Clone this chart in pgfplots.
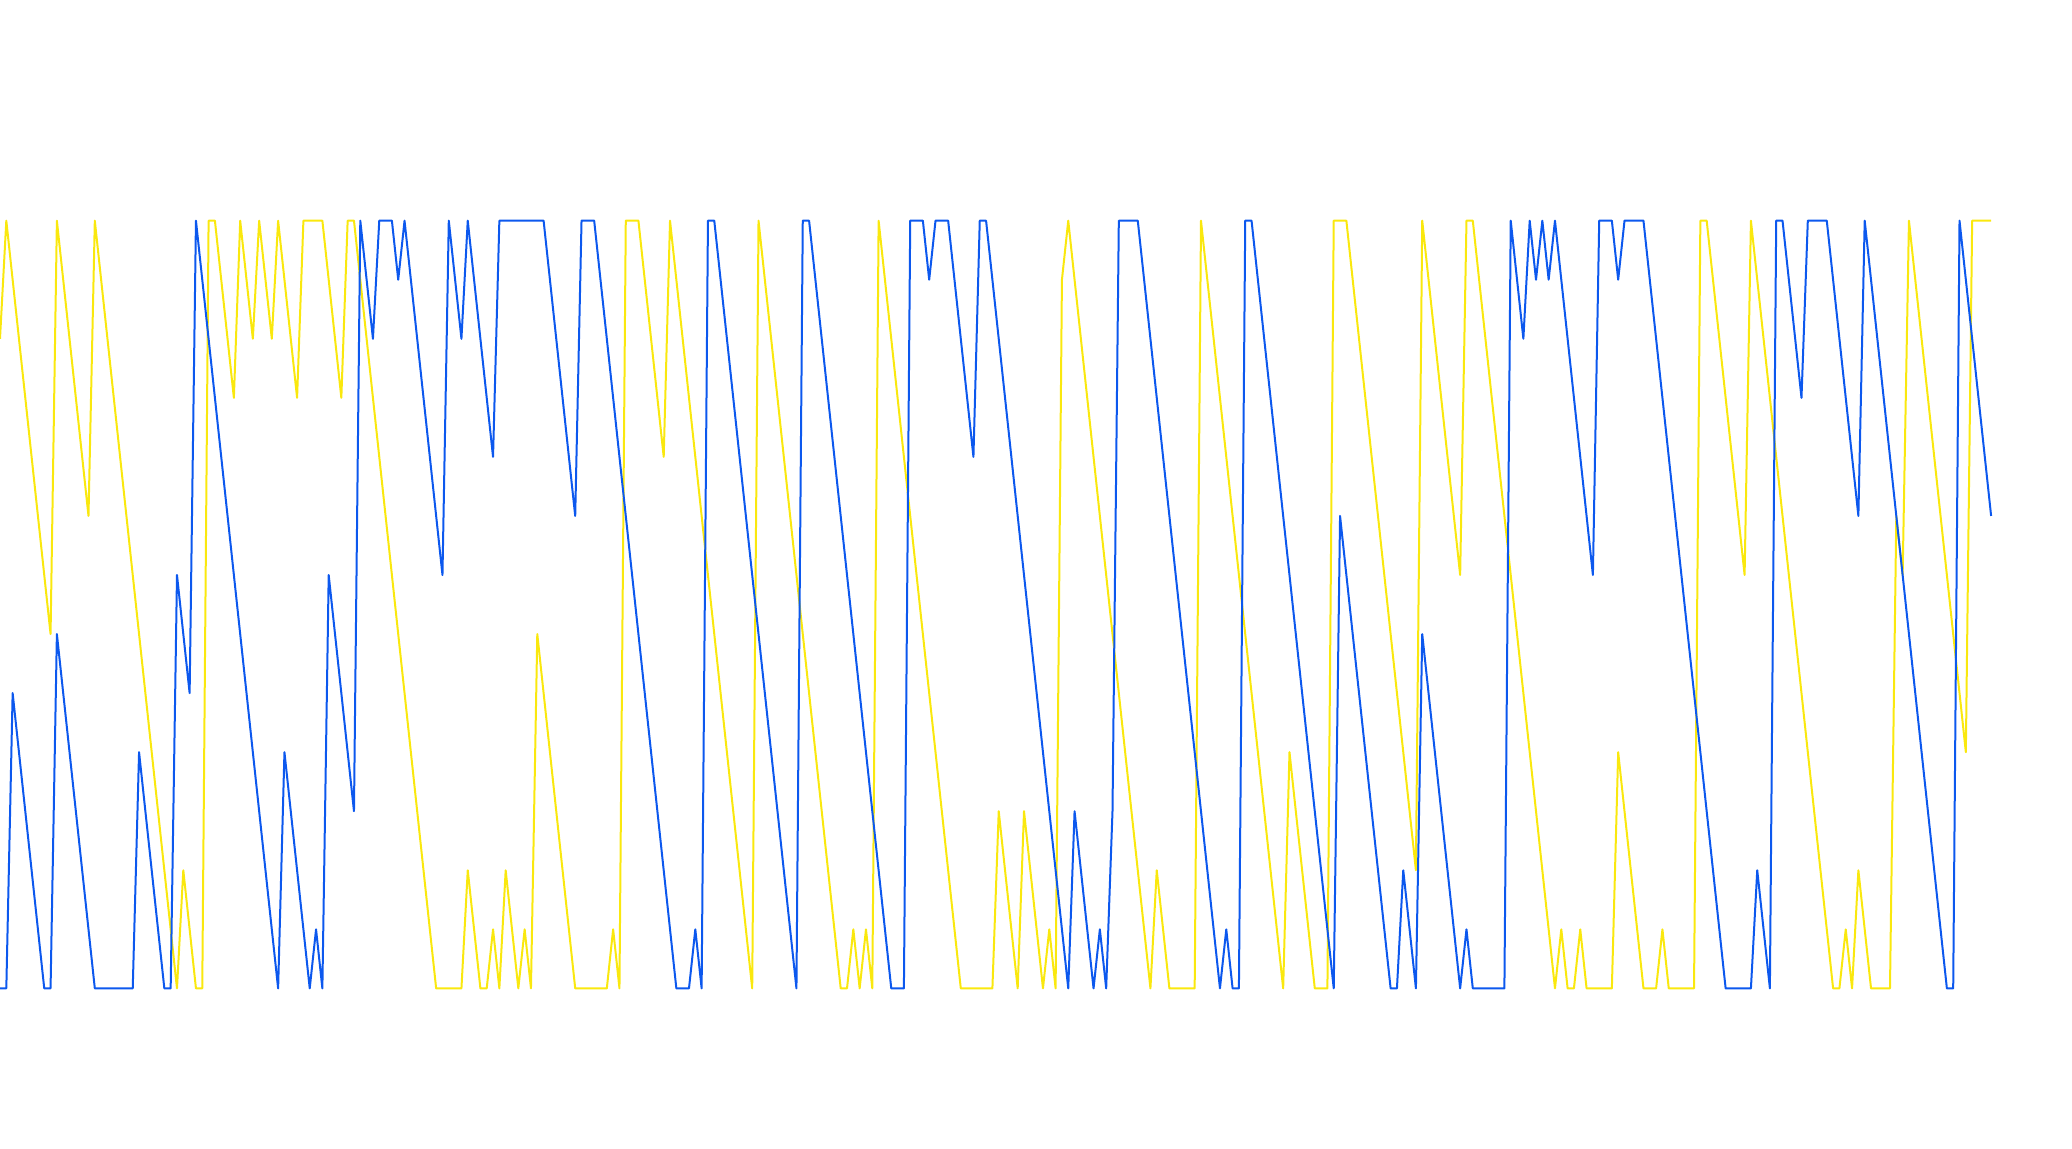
\documentclass[border=0pt]{standalone}
\usepackage{pgfplots}
\pgfplotsset{compat=1.18}
\usepackage{pgfplotstable}

\definecolor{lineblue}{RGB}{12,88,238}
\definecolor{lineyellow}{RGB}{250,232,14}

% blue series, one value per step
\pgfplotstableread{
x y
0 0
1 0
2 5
3 4
4 3
5 2
6 1
7 0
8 0
9 6
10 5
11 4
12 3
13 2
14 1
15 0
16 0
17 0
18 0
19 0
20 0
21 0
22 4
23 3
24 2
25 1
26 0
27 0
28 7
29 6
30 5
31 13
32 12
33 11
34 10
35 9
36 8
37 7
38 6
39 5
40 4
41 3
42 2
43 1
44 0
45 4
46 3
47 2
48 1
49 0
50 1
51 0
52 7
53 6
54 5
55 4
56 3
57 13
58 12
59 11
60 13
61 13
62 13
63 12
64 13
65 12
66 11
67 10
68 9
69 8
70 7
71 13
72 12
73 11
74 13
75 12
76 11
77 10
78 9
79 13
80 13
81 13
82 13
83 13
84 13
85 13
86 13
87 12
88 11
89 10
90 9
91 8
92 13
93 13
94 13
95 12
96 11
97 10
98 9
99 8
100 7
101 6
102 5
103 4
104 3
105 2
106 1
107 0
108 0
109 0
110 1
111 0
112 13
113 13
114 12
115 11
116 10
117 9
118 8
119 7
120 6
121 5
122 4
123 3
124 2
125 1
126 0
127 13
128 13
129 12
130 11
131 10
132 9
133 8
134 7
135 6
136 5
137 4
138 3
139 2
140 1
141 0
142 0
143 0
144 13
145 13
146 13
147 12
148 13
149 13
150 13
151 12
152 11
153 10
154 9
155 13
156 13
157 12
158 11
159 10
160 9
161 8
162 7
163 6
164 5
165 4
166 3
167 2
168 1
169 0
170 3
171 2
172 1
173 0
174 1
175 0
176 3
177 13
178 13
179 13
180 13
181 12
182 11
183 10
184 9
185 8
186 7
187 6
188 5
189 4
190 3
191 2
192 1
193 0
194 1
195 0
196 0
197 13
198 13
199 12
200 11
201 10
202 9
203 8
204 7
205 6
206 5
207 4
208 3
209 2
210 1
211 0
212 8
213 7
214 6
215 5
216 4
217 3
218 2
219 1
220 0
221 0
222 2
223 1
224 0
225 6
226 5
227 4
228 3
229 2
230 1
231 0
232 1
233 0
234 0
235 0
236 0
237 0
238 0
239 13
240 12
241 11
242 13
243 12
244 13
245 12
246 13
247 12
248 11
249 10
250 9
251 8
252 7
253 13
254 13
255 13
256 12
257 13
258 13
259 13
260 13
261 12
262 11
263 10
264 9
265 8
266 7
267 6
268 5
269 4
270 3
271 2
272 1
273 0
274 0
275 0
276 0
277 0
278 2
279 1
280 0
281 13
282 13
283 12
284 11
285 10
286 13
287 13
288 13
289 13
290 12
291 11
292 10
293 9
294 8
295 13
296 12
297 11
298 10
299 9
300 8
301 7
302 6
303 5
304 4
305 3
306 2
307 1
308 0
309 0
310 13
311 12
312 11
313 10
314 9
315 8
}\bluedata

% yellow series
\pgfplotstableread{
x y
0 11
1 13
2 12
3 11
4 10
5 9
6 8
7 7
8 6
9 13
10 12
11 11
12 10
13 9
14 8
15 13
16 12
17 11
18 10
19 9
20 8
21 7
22 6
23 5
24 4
25 3
26 2
27 1
28 0
29 2
30 1
31 0
32 0
33 13
34 13
35 12
36 11
37 10
38 13
39 12
40 11
41 13
42 12
43 11
44 13
45 12
46 11
47 10
48 13
49 13
50 13
51 13
52 12
53 11
54 10
55 13
56 13
57 12
58 11
59 10
60 9
61 8
62 7
63 6
64 5
65 4
66 3
67 2
68 1
69 0
70 0
71 0
72 0
73 0
74 2
75 1
76 0
77 0
78 1
79 0
80 2
81 1
82 0
83 1
84 0
85 6
86 5
87 4
88 3
89 2
90 1
91 0
92 0
93 0
94 0
95 0
96 0
97 1
98 0
99 13
100 13
101 13
102 12
103 11
104 10
105 9
106 13
107 12
108 11
109 10
110 9
111 8
112 7
113 6
114 5
115 4
116 3
117 2
118 1
119 0
120 13
121 12
122 11
123 10
124 9
125 8
126 7
127 6
128 5
129 4
130 3
131 2
132 1
133 0
134 0
135 1
136 0
137 1
138 0
139 13
140 12
141 11
142 10
143 9
144 8
145 7
146 6
147 5
148 4
149 3
150 2
151 1
152 0
153 0
154 0
155 0
156 0
157 0
158 3
159 2
160 1
161 0
162 3
163 2
164 1
165 0
166 1
167 0
168 12
169 13
170 12
171 11
172 10
173 9
174 8
175 7
176 6
177 5
178 4
179 3
180 2
181 1
182 0
183 2
184 1
185 0
186 0
187 0
188 0
189 0
190 13
191 12
192 11
193 10
194 9
195 8
196 7
197 6
198 5
199 4
200 3
201 2
202 1
203 0
204 4
205 3
206 2
207 1
208 0
209 0
210 0
211 13
212 13
213 13
214 12
215 11
216 10
217 9
218 8
219 7
220 6
221 5
222 4
223 3
224 2
225 13
226 12
227 11
228 10
229 9
230 8
231 7
232 13
233 13
234 12
235 11
236 10
237 9
238 8
239 7
240 6
241 5
242 4
243 3
244 2
245 1
246 0
247 1
248 0
249 0
250 1
251 0
252 0
253 0
254 0
255 0
256 4
257 3
258 2
259 1
260 0
261 0
262 0
263 1
264 0
265 0
266 0
267 0
268 0
269 13
270 13
271 12
272 11
273 10
274 9
275 8
276 7
277 13
278 12
279 11
280 10
281 9
282 8
283 7
284 6
285 5
286 4
287 3
288 2
289 1
290 0
291 0
292 1
293 0
294 2
295 1
296 0
297 0
298 0
299 0
300 8
301 7
302 13
303 12
304 11
305 10
306 9
307 8
308 7
309 6
310 5
311 4
312 13
313 13
314 13
315 13
}\yellowdata

\begin{document}
\begin{tikzpicture}
\begin{axis}[
    name=main,
    scale only axis,
    width=518pt, height=287pt,
    xmin=0, xmax=327.8,
    ymin=-2.703, ymax=16.737,
    axis lines=none,
    ticks=none,
]
\addplot[lineyellow, line width=0.5pt, line join=round] table[x=x, y=y] {\yellowdata};
\addplot[lineblue, line width=0.5pt, line join=round] table[x=x, y=y] {\bluedata};
\end{axis}
% keep the full figure area as the page
\pgfresetboundingbox
\path[use as bounding box] (main.south west) rectangle (main.north east);
\end{tikzpicture}
\end{document}
